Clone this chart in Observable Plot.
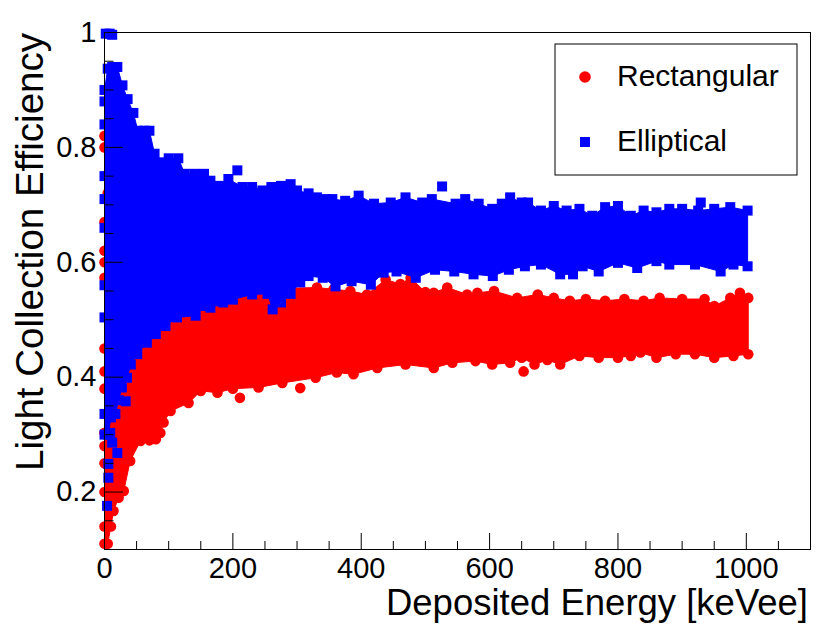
<!DOCTYPE html>
<html>
<head>
<meta charset="utf-8">
<script src="https://cdn.jsdelivr.net/npm/d3@7"></script>
<script src="https://cdn.jsdelivr.net/npm/@observablehq/plot@0.6"></script>
<style>
  html, body { margin: 0; padding: 0; background: #ffffff; }
  #chart { width: 830px; height: 637px; }
</style>
</head>
<body>
<div id="chart"></div>
<script>
// ---------- Data ----------
// Elliptical (blue) band: upper envelope
const blueTopE = [0, 5, 12, 20, 28, 36, 45, 52, 62, 70, 78, 88, 100, 115, 125, 140, 155, 165, 180, 193, 215, 230, 246, 260, 275, 290, 300, 318, 331, 345, 355, 375, 396, 420, 446, 469, 495, 510, 547, 562, 583, 604, 619, 632, 650, 660, 680, 700, 720, 740, 760, 780, 800, 820, 840, 860, 880, 900, 925, 950, 975, 1002];
const blueTopV = [0.90, 0.937, 0.94, 0.94, 0.908, 0.884, 0.86, 0.829, 0.829, 0.829, 0.789, 0.774, 0.781, 0.781, 0.754, 0.754, 0.754, 0.742, 0.733, 0.745, 0.731, 0.731, 0.725, 0.731, 0.733, 0.736, 0.725, 0.72, 0.713, 0.71, 0.71, 0.707, 0.716, 0.702, 0.704, 0.713, 0.704, 0.71, 0.702, 0.71, 0.702, 0.693, 0.702, 0.713, 0.704, 0.704, 0.690, 0.698, 0.690, 0.693, 0.681, 0.696, 0.698, 0.681, 0.690, 0.687, 0.693, 0.693, 0.690, 0.693, 0.696, 0.690];
// Elliptical (blue) band: lower envelope
const blueBotE = [0, 6, 10, 17, 22, 27, 35, 41, 51, 66, 80, 95, 113, 142, 150, 165, 176, 185, 200, 230, 254, 262, 275, 290, 305, 318, 340, 360, 385, 415, 435, 455, 485, 515, 545, 575, 605, 630, 655, 680, 710, 730, 745, 770, 800, 830, 860, 880, 920, 960, 980, 1002];
const blueBotV = [0.30, 0.30, 0.33, 0.336, 0.36, 0.382, 0.399, 0.422, 0.44, 0.46, 0.475, 0.489, 0.504, 0.507, 0.524, 0.521, 0.532, 0.53, 0.535, 0.544, 0.545, 0.518, 0.53, 0.545, 0.565, 0.576, 0.573, 0.558, 0.567, 0.561, 0.582, 0.584, 0.573, 0.587, 0.584, 0.579, 0.576, 0.587, 0.593, 0.596, 0.579, 0.579, 0.593, 0.584, 0.599, 0.590, 0.602, 0.596, 0.596, 0.584, 0.596, 0.593];
// Elliptical isolated points
const blueExtraE = [2, 8, 12, 4, 6, 6, 20, 12, 9, 33, 9, 0, 0, 0, 0, 0, 0, 0, 0, 207, 526, 929];
const blueExtraV = [0.998, 0.998, 0.996, 0.176, 0.225, 0.249, 0.268, 0.286, 0.303, 0.358, 0.364, 0.88, 0.84, 0.75, 0.71, 0.66, 0.56, 0.504, 0.336, 0.76, 0.732, 0.704];

// Rectangular (red) band: upper envelope
const redTopE = [0, 5, 10, 20, 40, 80, 150, 200, 254, 290, 331, 357, 383, 409, 438, 461, 477, 500, 513, 534, 565, 581, 607, 643, 675, 700, 725, 750, 780, 810, 840, 865, 900, 935, 950, 975, 990, 1003];
const redTopV = [0.82, 0.72, 0.64, 0.58, 0.54, 0.53, 0.535, 0.545, 0.55, 0.555, 0.556, 0.553, 0.55, 0.544, 0.57, 0.562, 0.573, 0.548, 0.547, 0.556, 0.544, 0.547, 0.55, 0.538, 0.544, 0.538, 0.533, 0.536, 0.533, 0.536, 0.533, 0.538, 0.536, 0.536, 0.524, 0.538, 0.547, 0.538];
// Rectangular (red) band: lower envelope
const redBotE = [0, 5, 10, 14, 22, 30, 40, 56, 70, 80, 87, 92, 103, 131, 150, 176, 200, 240, 277, 329, 362, 388, 425, 469, 513, 542, 578, 604, 632, 650, 670, 690, 710, 740, 770, 800, 820, 835, 860, 890, 920, 950, 980, 1003];
const redBotV = [0.11, 0.11, 0.14, 0.167, 0.19, 0.202, 0.254, 0.289, 0.29, 0.292, 0.303, 0.321, 0.341, 0.355, 0.376, 0.373, 0.38, 0.382, 0.39, 0.399, 0.408, 0.405, 0.416, 0.422, 0.416, 0.425, 0.428, 0.422, 0.425, 0.434, 0.422, 0.43, 0.422, 0.437, 0.434, 0.434, 0.437, 0.443, 0.434, 0.44, 0.44, 0.434, 0.437, 0.44];
// Rectangular isolated points
const redExtraE = [211, 305, 653, 0, 0, 0, 0, 0, 0, 0, 0, 0, 0, 0, 0, 0];
const redExtraV = [0.364, 0.381, 0.41, 0.80, 0.67, 0.62, 0.60, 0.573, 0.45, 0.41, 0.38, 0.303, 0.28, 0.25, 0.2, 0.14];

// Axes
const xMajor = [0, 200, 400, 600, 800, 1000];
const xMajorLabels = ["0", "200", "400", "600", "800", "1000"];
const xMinor = [50, 100, 150, 250, 300, 350, 450, 500, 550, 650, 700, 750, 850, 900, 950, 1050];
const yMajor = [0.2, 0.4, 0.6, 0.8, 1.0];
const yMajorLabels = ["0.2", "0.4", "0.6", "0.8", "1"];
const yMinor = [0.15, 0.25, 0.3, 0.35, 0.45, 0.5, 0.55, 0.65, 0.7, 0.75, 0.85, 0.9, 0.95];

const seriesNames = ["Rectangular", "Elliptical"];
const xTitle = "Deposited Energy [keVee]";
const yTitle = "Light Collection Efficiency";

// ---------- Build tables ----------
const pts = (E, V) => E.map((e, i) => ({e, v: V[i]}));
const band = (tE, tV, bE, bV) => [...pts(tE, tV), ...pts(bE, bV).reverse()];
const redBand = band(redTopE, redTopV, redBotE, redBotV);
const blueBand = band(blueTopE, blueTopV, blueBotE, blueBotV);
const redEdges = [...pts(redTopE, redTopV), ...pts(redBotE, redBotV), ...pts(redExtraE, redExtraV)];
const blueEdges = [...pts(blueTopE, blueTopV), ...pts(blueBotE, blueBotV), ...pts(blueExtraE, blueExtraV)];

const RED = "#ff0000", BLUE = "#0000ff";
const xDom = [0, 1100], yDom = [0.1, 1.0];
const W = 830, H = 637, mL = 104, mR = 20, mT = 32, mB = 88;
const pxX = (xDom[1] - xDom[0]) / (W - mL - mR);
const pxY = (yDom[1] - yDom[0]) / (H - mT - mB);
const font = "'Liberation Sans', Arial, Helvetica, sans-serif";

const chart = Plot.plot({
  width: W, height: H,
  marginLeft: mL, marginRight: mR, marginTop: mT, marginBottom: mB,
  style: {fontFamily: font, background: "white", overflow: "visible", color: "black"},
  x: {domain: xDom},
  y: {domain: yDom},
  marks: [
    Plot.line(redBand, {x: "e", y: "v", fill: RED, stroke: RED, strokeWidth: 1, curve: "linear"}),
    Plot.dot(redEdges, {x: "e", y: "v", r: 5.3, fill: RED, stroke: "none"}),
    Plot.line(blueBand, {x: "e", y: "v", fill: BLUE, stroke: BLUE, strokeWidth: 1, curve: "linear"}),
    Plot.dot(blueEdges, {x: "e", y: "v", r: 5.64, symbol: "square", fill: BLUE, stroke: "none"}),
    Plot.frame({stroke: "black", strokeWidth: 1}),
    Plot.ruleX(xMajor, {x: d => d, y1: yDom[0], y2: yDom[0] + 16 * pxY, stroke: "black"}),
    Plot.ruleX(xMinor, {x: d => d, y1: yDom[0], y2: yDom[0] + 8 * pxY, stroke: "black"}),
    Plot.ruleY(yMajor, {y: d => d, x1: xDom[0], x2: xDom[0] + 19 * pxX, stroke: "black"}),
    Plot.ruleY(yMinor, {y: d => d, x1: xDom[0], x2: xDom[0] + 9.5 * pxX, stroke: "black"}),
    Plot.axisX({ticks: xMajor, tickSize: 0, tickPadding: 8, fontSize: 29, label: null,
      tickFormat: d => xMajorLabels[xMajor.indexOf(d)]}),
    Plot.axisY({ticks: yMajor, tickSize: 0, tickPadding: 8, fontSize: 29, label: null,
      tickFormat: d => yMajorLabels[yMajor.findIndex(t => Math.abs(t - d) < 1e-9)]})
  ]
});

document.getElementById("chart").appendChild(chart);

// ---------- Titles and legend ----------
const svg = d3.select(chart);
svg.append("text")
  .attr("x", 808).attr("y", 615)
  .attr("text-anchor", "end")
  .attr("font-family", font).attr("font-size", 36.5).attr("fill", "black")
  .text(xTitle);
svg.append("text")
  .attr("transform", "translate(43,33) rotate(-90)")
  .attr("text-anchor", "end")
  .attr("font-family", font).attr("font-size", 38.5).attr("fill", "black")
  .text(yTitle);

const lg = svg.append("g").attr("text-anchor", "start");
lg.append("rect").attr("x", 555).attr("y", 44).attr("width", 242).attr("height", 131)
  .attr("fill", "white").attr("stroke", "black").attr("stroke-width", 1);
lg.append("circle").attr("cx", 585).attr("cy", 77).attr("r", 5.8).attr("fill", RED);
lg.append("rect").attr("x", 580).attr("y", 137).attr("width", 10).attr("height", 10).attr("fill", BLUE);
lg.append("text").attr("x", 617).attr("y", 86).attr("text-anchor", "start")
  .attr("font-family", font).attr("font-size", 30)
  .attr("fill", "black").text(seriesNames[0]);
lg.append("text").attr("x", 617).attr("y", 151).attr("text-anchor", "start")
  .attr("font-family", font).attr("font-size", 30)
  .attr("fill", "black").text(seriesNames[1]);
</script>
</body>
</html>
